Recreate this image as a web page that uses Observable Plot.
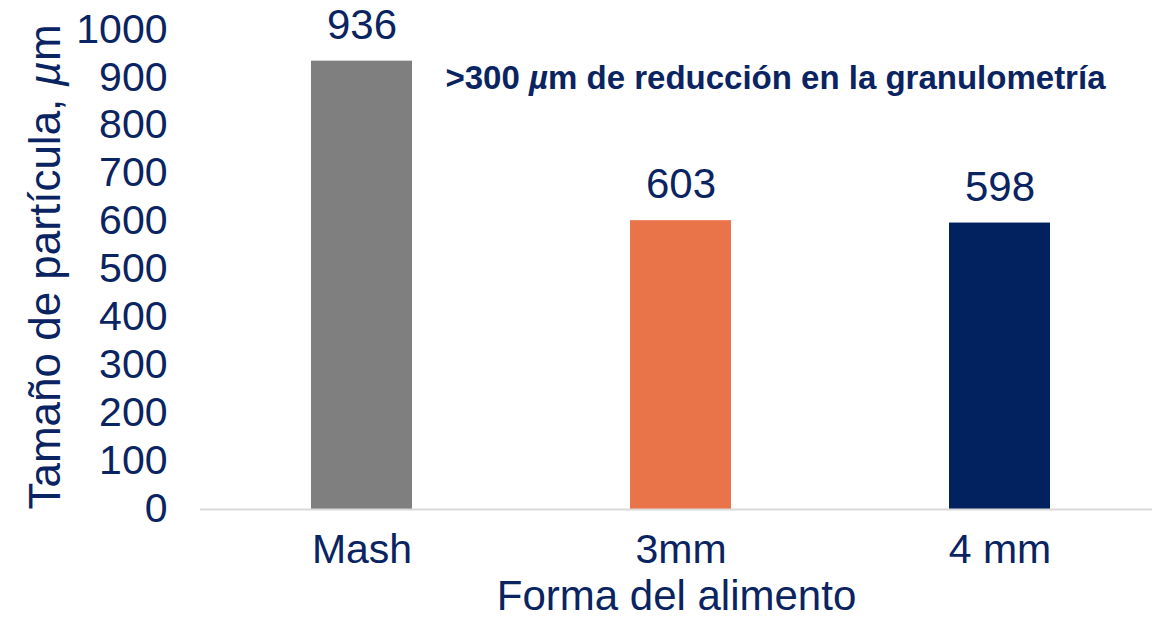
<!DOCTYPE html>
<html>
<head>
<meta charset="utf-8">
<script src="https://cdn.jsdelivr.net/npm/d3@7"></script>
<script src="https://cdn.jsdelivr.net/npm/@observablehq/plot@0.6"></script>
<style>
  html, body { margin: 0; padding: 0; background: #ffffff; }
  #chart { width: 1152px; height: 620px; }
  svg { font-family: "Liberation Sans", Arial, Helvetica, sans-serif; }
</style>
</head>
<body>
<div id="chart"></div>
<script>
// Feed form categories and mean particle size (µm)
const formas = ["Mash", "3mm", "4 mm"];
const tamanos = [936, 603, 598];
const colores = ["#7f7f7f", "#e9744a", "#02215f"];
const yTicks = [0, 100, 200, 300, 400, 500, 600, 700, 800, 900, 1000];

const tituloY = "Tamaño de partícula, µm";
const tituloX = "Forma del alimento";
const nota = ">300 µm de reducción en la granulometría";

const ink = "#0a2462";
const data = formas.map((f, i) => ({forma: f, valor: tamanos[i]}));

const chart = Plot.plot({
  width: 1152,
  height: 620,
  marginLeft: 200,
  marginRight: 0,
  marginTop: 30,
  marginBottom: 111,
  style: {color: ink, background: "#ffffff", fontFamily: '"Liberation Sans", Arial, Helvetica, sans-serif'},
  x: {domain: formas, range: [200, 1161], paddingInner: 0.684, paddingOuter: 0.344},
  y: {domain: [0, 1000]},
  color: {domain: formas, range: colores},
  marks: [
    Plot.barY(data, {x: "forma", y: "valor", fill: "forma"}),
    Plot.ruleY([0], {stroke: "#d9d9d9", strokeWidth: 2}),
    Plot.axisY({ticks: yTicks, tickFormat: d => String(d), tickSize: 0, tickPadding: 33, fontSize: 41, label: null, dy: -1}),
    Plot.axisX({tickSize: 0, tickPadding: 24, fontSize: 41, label: null}),
    Plot.text(data, {x: "forma", y: "valor", text: d => String(d.valor), dy: -36, fontSize: 42, fill: ink}),
    Plot.text([nota], {frameAnchor: "top", lineAnchor: "middle", dx: 99, dy: 48, fontSize: 33, fontWeight: "bold", fill: ink}),
    Plot.text([tituloX], {frameAnchor: "bottom", lineAnchor: "middle", dy: 87, fontSize: 42, fill: ink}),
    Plot.text([tituloY], {frameAnchor: "left", textAnchor: "middle", lineAnchor: "middle", dx: -155, dy: -3, rotate: -90, fontSize: 44, fill: ink})
  ]
});

// Set the micro sign in italics
d3.select(chart).selectAll("text").each(function() {
  const el = d3.select(this);
  const target = el.selectAll("tspan").empty() ? el : el.select("tspan");
  const t = target.text();
  if (!t.includes("µ")) return;
  const parts = t.split("µ");
  target.text(null);
  parts.forEach((p, i) => {
    if (i > 0) target.append("tspan").attr("font-style", "italic").text("µ");
    if (p) target.append("tspan").text(p);
  });
});

document.getElementById("chart").appendChild(chart);
</script>
</body>
</html>
